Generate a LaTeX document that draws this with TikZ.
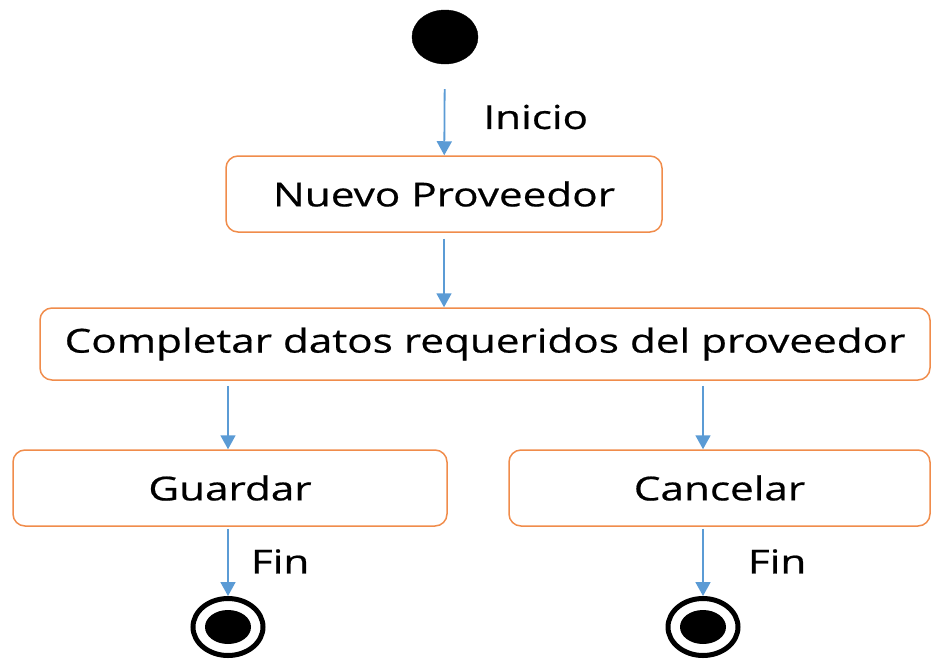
\documentclass[tikz,border=0pt]{standalone}
\usepackage{fontspec}
\setmainfont{Open Sans}[FakeStretch=1.28,FakeBold=0.6]
\usetikzlibrary{arrows.meta}
\usetikzlibrary{shapes.geometric}

\definecolor{flowblue}{RGB}{91,155,213}
\definecolor{boxorange}{RGB}{240,140,75}

\begin{document}
\begin{tikzpicture}[x=1pt,y=-1pt,
  font=\fontsize{33}{38}\selectfont,
  act node/.style={draw=boxorange,line width=1.5pt,rounded corners=12pt,
  inner sep=0pt},
  start node/.style={ellipse,fill=black,draw=black,minimum width=66pt,
  minimum height=54pt,inner sep=0pt},
  end node/.style={ellipse,draw=black,line width=5pt,minimum width=70pt,
  minimum height=57pt,inner sep=0pt},
  every edge/.append style={draw=flowblue,line width=1.8pt,
  -{Triangle[width=15pt,length=14pt]}}]
  \useasboundingbox (0,0) rectangle (932,662);

  \node[start node] (ini) at (445,37) {};
  \node[act node,minimum width=436pt,minimum height=76pt] (nuevo) at (444,194) {Nuevo Proveedor};
  \node[act node,minimum width=890pt,minimum height=72pt] (datos) at (485,344) {Completar datos requeridos del proveedor};
  \node[act node,minimum width=434pt,minimum height=76pt] (guardar) at (230,488) {Guardar};
  \node[act node,minimum width=421pt,minimum height=76pt] (cancelar) at (719.5,488) {Cancelar};
  \node[end node] (fin1) at (228,627) {};
  \node[end node] (fin2) at (703,627) {};
  % puntos finales (relleno)
  \fill (fin1) ellipse [x radius=23pt,y radius=17pt];
  \fill (fin2) ellipse [x radius=23pt,y radius=17pt];

  \path[every node/.style={inner sep=0pt}]
    (ini) edge [shorten <=25pt] node[right=38pt,pos=0.58] {Inicio} (nuevo)
    (nuevo) edge [shorten <=6pt] (nuevo |- datos.north)
    (datos.south -| fin1) edge [shorten <=5pt] (guardar.north -| fin1)
    (datos.south -| fin2) edge [shorten <=5pt] (cancelar.north -| fin2)
    % flechas de fin
    (guardar.south -| fin1) edge [shorten <=2pt] node[right=22pt] {Fin} (fin1)
    (cancelar.south -| fin2) edge [shorten <=2pt] node[right=44pt] {Fin} (fin2);
\end{tikzpicture}
\end{document}
